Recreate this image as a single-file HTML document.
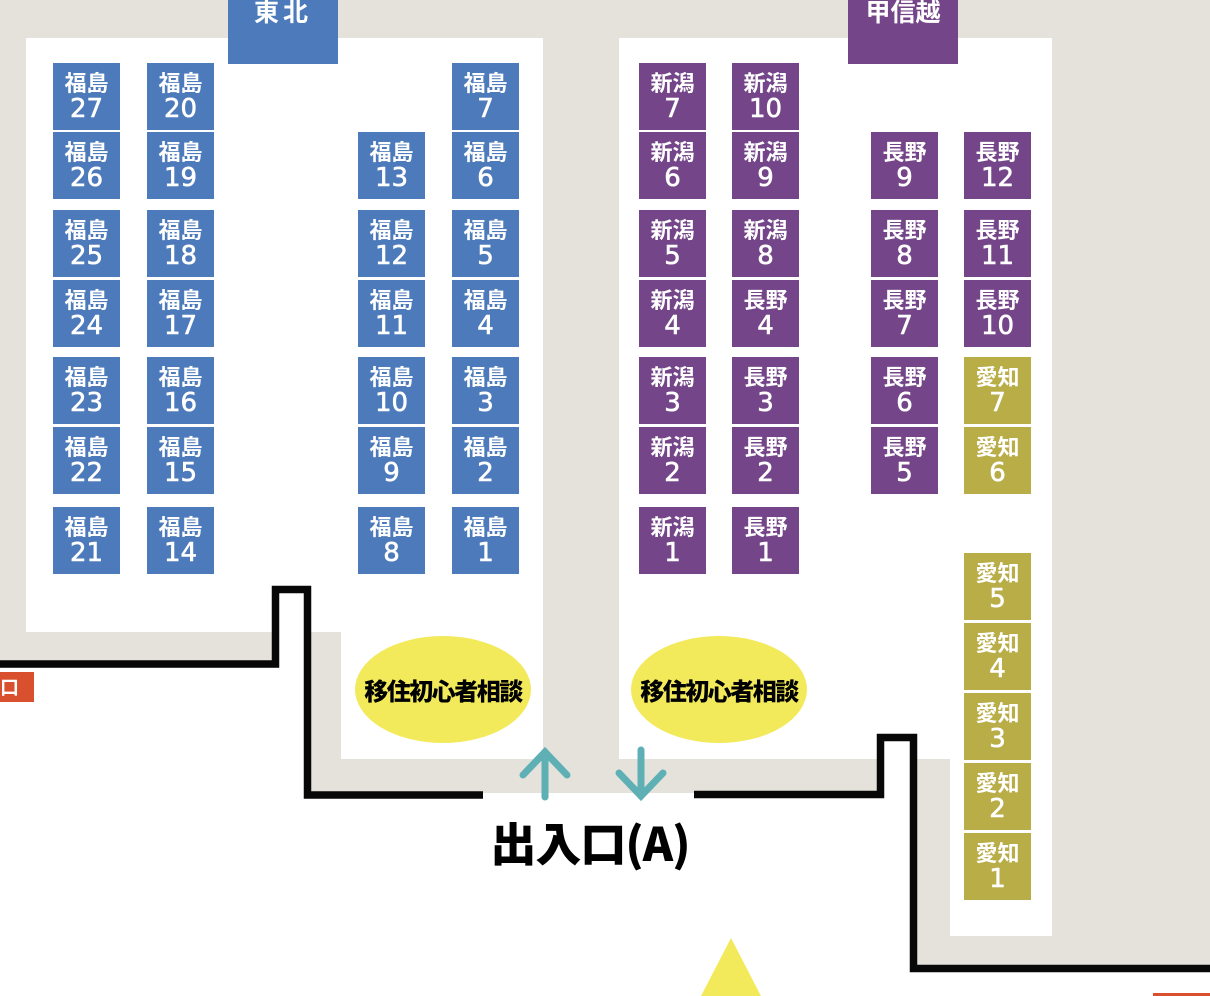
<!DOCTYPE html>
<html><head><meta charset="utf-8"><style>
body{margin:0;width:1210px;height:996px;position:relative;overflow:hidden;background:#fff;font-family:"Liberation Sans","Noto Sans CJK JP",sans-serif}
.a{position:absolute}
.g{position:absolute;background:#e5e2dc}
.w{position:absolute;background:#fff}
.b{position:absolute;width:67px;height:67px;color:#fff;font-weight:bold;text-align:center;font-family:"Noto Sans CJK JP",sans-serif}
.b span{display:block;font-size:22px;line-height:22px;margin-top:8px}
.b i{display:block;font-style:normal;font-size:26px;line-height:26px;margin-top:3px;font-family:"DejaVu Sans","Liberation Sans",sans-serif;font-weight:normal;-webkit-text-stroke:0.6px #fff}
.t{background:#4d7aba}.p{background:#744689}.o{background:#b9ad48}
.e{position:absolute;background:#f2ea5a;border-radius:50%;font-weight:900;font-size:24px;display:flex;align-items:center;justify-content:center;font-family:"Noto Sans CJK JP",sans-serif;letter-spacing:-1.5px;white-space:nowrap}
</style></head><body>
<div class="g" style="left:0;top:0;width:1210px;height:793px"></div>
<div class="g" style="left:917px;top:793px;width:293px;height:172px"></div>
<div class="w" style="left:26px;top:38px;width:517px;height:594px"></div>
<div class="w" style="left:341px;top:632px;width:202px;height:127px"></div>
<div class="w" style="left:619px;top:38px;width:433px;height:721px"></div>
<div class="w" style="left:950px;top:759px;width:102px;height:177px"></div>
<div class="w" style="left:0;top:668px;width:304px;height:328px"></div>
<div class="w" style="left:279px;top:593px;width:25px;height:75px"></div>
<div class="w" style="left:0;top:798px;width:910px;height:198px"></div>
<div class="w" style="left:884px;top:741px;width:26px;height:57px"></div>
<div class="w" style="left:910px;top:972px;width:300px;height:24px"></div>

<div class="a" style="left:228px;top:0;width:110px;height:64px;background:#4d7aba;color:#fff;font-weight:bold;font-size:25px;text-align:center;line-height:22px;font-family:'Noto Sans CJK JP',sans-serif;letter-spacing:4px">東北</div>
<div class="a" style="left:848px;top:0;width:110px;height:64px;background:#744689;color:#fff;font-weight:bold;font-size:25px;text-align:center;line-height:22px;font-family:'Noto Sans CJK JP',sans-serif">甲信越</div>

<svg class="a" style="left:0;top:0" width="1210" height="996">
<polyline points="0,664 275.5,664 275.5,589.5 307.5,589.5 307.5,795 483,795" fill="none" stroke="#080808" stroke-width="7.5"/>
<polyline points="694,794.5 880.5,794.5 880.5,737.5 913.5,737.5 913.5,968.5 1210,968.5" fill="none" stroke="#080808" stroke-width="7.5"/>
<g stroke="#5fb0b5" stroke-width="7" stroke-linecap="round" fill="none">
<line x1="545" y1="797" x2="545" y2="752"/><polyline points="523,775 545,752 567,775"/>
<line x1="641" y1="750" x2="641" y2="796"/><polyline points="619,773 641,796 663,773"/>
</g>
<polygon points="731,938 701,996 761,996" fill="#f2ea5a"/>
<rect x="0" y="672" width="34" height="30" fill="#d9502f"/>
<rect x="1153" y="993" width="57" height="3" fill="#d9502f"/>
</svg>
<div class="a" style="left:0;top:672px;width:20px;height:30px;color:#fff;font-size:19px;line-height:30px;font-weight:bold;font-family:'Noto Sans CJK JP',sans-serif">口</div>

<div class="e" style="left:355px;top:636px;width:176px;height:107px">移住初心者相談</div>
<div class="e" style="left:631px;top:636px;width:176px;height:107px">移住初心者相談</div>
<div class="a" style="left:460px;top:810px;width:260px;text-align:center;font-size:46px;font-weight:900;font-family:'Noto Sans CJK JP',sans-serif;line-height:64px;letter-spacing:-1px">出入口(A)</div>

<div class="b t" style="left:53px;top:63px"><span>福島</span><i>27</i></div>
<div class="b t" style="left:53px;top:132px"><span>福島</span><i>26</i></div>
<div class="b t" style="left:53px;top:210px"><span>福島</span><i>25</i></div>
<div class="b t" style="left:53px;top:280px"><span>福島</span><i>24</i></div>
<div class="b t" style="left:53px;top:357px"><span>福島</span><i>23</i></div>
<div class="b t" style="left:53px;top:427px"><span>福島</span><i>22</i></div>
<div class="b t" style="left:53px;top:507px"><span>福島</span><i>21</i></div>
<div class="b t" style="left:147px;top:63px"><span>福島</span><i>20</i></div>
<div class="b t" style="left:147px;top:132px"><span>福島</span><i>19</i></div>
<div class="b t" style="left:147px;top:210px"><span>福島</span><i>18</i></div>
<div class="b t" style="left:147px;top:280px"><span>福島</span><i>17</i></div>
<div class="b t" style="left:147px;top:357px"><span>福島</span><i>16</i></div>
<div class="b t" style="left:147px;top:427px"><span>福島</span><i>15</i></div>
<div class="b t" style="left:147px;top:507px"><span>福島</span><i>14</i></div>
<div class="b t" style="left:358px;top:132px"><span>福島</span><i>13</i></div>
<div class="b t" style="left:358px;top:210px"><span>福島</span><i>12</i></div>
<div class="b t" style="left:358px;top:280px"><span>福島</span><i>11</i></div>
<div class="b t" style="left:358px;top:357px"><span>福島</span><i>10</i></div>
<div class="b t" style="left:358px;top:427px"><span>福島</span><i>9</i></div>
<div class="b t" style="left:358px;top:507px"><span>福島</span><i>8</i></div>
<div class="b t" style="left:452px;top:63px"><span>福島</span><i>7</i></div>
<div class="b t" style="left:452px;top:132px"><span>福島</span><i>6</i></div>
<div class="b t" style="left:452px;top:210px"><span>福島</span><i>5</i></div>
<div class="b t" style="left:452px;top:280px"><span>福島</span><i>4</i></div>
<div class="b t" style="left:452px;top:357px"><span>福島</span><i>3</i></div>
<div class="b t" style="left:452px;top:427px"><span>福島</span><i>2</i></div>
<div class="b t" style="left:452px;top:507px"><span>福島</span><i>1</i></div>
<div class="b p" style="left:639px;top:63px"><span>新潟</span><i>7</i></div>
<div class="b p" style="left:639px;top:132px"><span>新潟</span><i>6</i></div>
<div class="b p" style="left:639px;top:210px"><span>新潟</span><i>5</i></div>
<div class="b p" style="left:639px;top:280px"><span>新潟</span><i>4</i></div>
<div class="b p" style="left:639px;top:357px"><span>新潟</span><i>3</i></div>
<div class="b p" style="left:639px;top:427px"><span>新潟</span><i>2</i></div>
<div class="b p" style="left:639px;top:507px"><span>新潟</span><i>1</i></div>
<div class="b p" style="left:732px;top:63px"><span>新潟</span><i>10</i></div>
<div class="b p" style="left:732px;top:132px"><span>新潟</span><i>9</i></div>
<div class="b p" style="left:732px;top:210px"><span>新潟</span><i>8</i></div>
<div class="b p" style="left:732px;top:280px"><span>長野</span><i>4</i></div>
<div class="b p" style="left:732px;top:357px"><span>長野</span><i>3</i></div>
<div class="b p" style="left:732px;top:427px"><span>長野</span><i>2</i></div>
<div class="b p" style="left:732px;top:507px"><span>長野</span><i>1</i></div>
<div class="b p" style="left:871px;top:132px"><span>長野</span><i>9</i></div>
<div class="b p" style="left:871px;top:210px"><span>長野</span><i>8</i></div>
<div class="b p" style="left:871px;top:280px"><span>長野</span><i>7</i></div>
<div class="b p" style="left:871px;top:357px"><span>長野</span><i>6</i></div>
<div class="b p" style="left:871px;top:427px"><span>長野</span><i>5</i></div>
<div class="b p" style="left:964px;top:132px"><span>長野</span><i>12</i></div>
<div class="b p" style="left:964px;top:210px"><span>長野</span><i>11</i></div>
<div class="b p" style="left:964px;top:280px"><span>長野</span><i>10</i></div>
<div class="b o" style="left:964px;top:357px"><span>愛知</span><i>7</i></div>
<div class="b o" style="left:964px;top:427px"><span>愛知</span><i>6</i></div>
<div class="b o" style="left:964px;top:553px"><span>愛知</span><i>5</i></div>
<div class="b o" style="left:964px;top:623px"><span>愛知</span><i>4</i></div>
<div class="b o" style="left:964px;top:693px"><span>愛知</span><i>3</i></div>
<div class="b o" style="left:964px;top:763px"><span>愛知</span><i>2</i></div>
<div class="b o" style="left:964px;top:833px"><span>愛知</span><i>1</i></div>
</body></html>
